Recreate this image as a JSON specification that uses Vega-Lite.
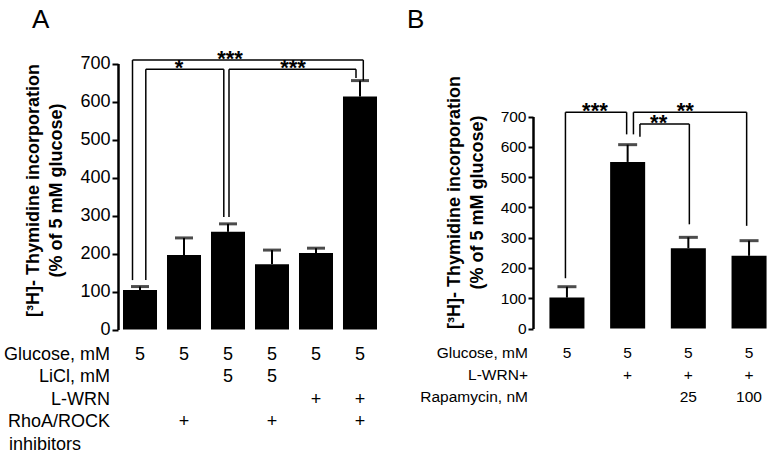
{
  "$schema": "https://vega.github.io/schema/vega-lite/v6.json",
  "width": 784,
  "height": 453,
  "autosize": {"type": "none"},
  "padding": 0,
  "background": "white",
  "config": {
    "view": {"stroke": null},
    "font": "Liberation Sans",
    "axis": {"labelFont": "Liberation Sans", "titleFont": "Liberation Sans", "grid": false},
    "text": {"font": "Liberation Sans", "color": "black"}
  },
  "datasets": {
    "barsA": [
      {"cat": "A1", "value": 104, "err": 113},
      {"cat": "A2", "value": 196, "err": 241},
      {"cat": "A3", "value": 257, "err": 278},
      {"cat": "A4", "value": 172, "err": 209},
      {"cat": "A5", "value": 201, "err": 214},
      {"cat": "A6", "value": 613, "err": 655}
    ],
    "barsB": [
      {"cat": "B1", "value": 102, "err": 138},
      {"cat": "B2", "value": 550, "err": 607},
      {"cat": "B3", "value": 265, "err": 301},
      {"cat": "B4", "value": 240, "err": 290}
    ],
    "bracketsA": [
      {"id": "a_outer", "from": "A1", "to": "A6", "top": 709, "yl": 130, "yr": 655, "labelAt": "A3", "label": "***"},
      {"id": "a_star", "from": "A1", "to": "A3", "top": 685, "yl": 130, "yr": 296, "labelAt": "A2", "label": "*"},
      {"id": "a_inner", "from": "A3", "to": "A6", "top": 685, "yl": 296, "yr": 662, "labelAt": "A4", "label": "***"}
    ],
    "bracketsB": [
      {"id": "b_12", "from": "B1", "to": "B2", "top": 714, "yl": 166, "yr": 641, "labelAt": "B1", "label": "***"},
      {"id": "b_24", "from": "B2", "to": "B4", "top": 714, "yl": 641, "yr": 339, "labelAt": "B3", "label": "**"},
      {"id": "b_23", "from": "B2", "to": "B3", "top": 675, "yl": 633, "yr": 344, "labelAt": "B2", "label": "**"}
    ],
    "tableA": [
      {"cat": "A1", "row": "Glucose, mM", "text": "5"},
      {"cat": "A2", "row": "Glucose, mM", "text": "5"},
      {"cat": "A3", "row": "Glucose, mM", "text": "5"},
      {"cat": "A4", "row": "Glucose, mM", "text": "5"},
      {"cat": "A5", "row": "Glucose, mM", "text": "5"},
      {"cat": "A6", "row": "Glucose, mM", "text": "5"},
      {"cat": "A3", "row": "LiCl, mM", "text": "5"},
      {"cat": "A4", "row": "LiCl, mM", "text": "5"},
      {"cat": "A5", "row": "L-WRN", "text": "+"},
      {"cat": "A6", "row": "L-WRN", "text": "+"},
      {"cat": "A2", "row": "RhoA/ROCK", "text": "+"},
      {"cat": "A4", "row": "RhoA/ROCK", "text": "+"},
      {"cat": "A6", "row": "RhoA/ROCK", "text": "+"}
    ],
    "rowsA": [
      {"row": "Glucose, mM"}, {"row": "LiCl, mM"}, {"row": "L-WRN"}, {"row": "RhoA/ROCK"}, {"row": "inhibitors"}
    ],
    "tableB": [
      {"cat": "B1", "row": "Glucose, mM", "text": "5"},
      {"cat": "B2", "row": "Glucose, mM", "text": "5"},
      {"cat": "B3", "row": "Glucose, mM", "text": "5"},
      {"cat": "B4", "row": "Glucose, mM", "text": "5"},
      {"cat": "B2", "row": "L-WRN+", "text": "+"},
      {"cat": "B3", "row": "L-WRN+", "text": "+"},
      {"cat": "B4", "row": "L-WRN+", "text": "+"},
      {"cat": "B3", "row": "Rapamycin, nM", "text": "25"},
      {"cat": "B4", "row": "Rapamycin, nM", "text": "100"}
    ],
    "rowsB": [
      {"row": "Glucose, mM"}, {"row": "L-WRN+"}, {"row": "Rapamycin, nM"}
    ]
  },
  "layer": [
    {
      "layer": [
        {
          "layer": [
            {
              "data": {"name": "barsA"},
              "mark": {"type": "bar", "color": "black"},
              "encoding": {
                "x": {
                  "field": "cat", "type": "nominal",
                  "scale": {"domain": ["A1", "A2", "A3", "A4", "A5", "A6"], "range": [118, 382], "paddingInner": 0.227, "paddingOuter": 0.1136, "align": 0.5},
                  "axis": {"orient": "bottom", "offset": -123.5, "labels": false, "title": null, "domainColor": "black", "domainWidth": 2.5, "tickColor": "black", "tickWidth": 2, "tickSize": 7}
                },
                "y": {
                  "field": "value", "type": "quantitative",
                  "scale": {"domain": [0, 700], "range": [329.5, 63.5], "nice": false},
                  "axis": {
                    "orient": "left", "offset": -118,
                    "values": [0, 100, 200, 300, 400, 500, 600, 700],
                    "domainColor": "black", "domainWidth": 2.5,
                    "tickColor": "black", "tickWidth": 2, "tickSize": 6,
                    "labelFontSize": 18, "labelColor": "black", "labelPadding": 2,
                    "title": ["[³H]- Thymidine incorporation", "(% of 5 mM glucose)"],
                    "titleFontSize": 18, "titleFontWeight": "bold", "titleColor": "black",
                    "titleLineHeight": 23, "titlePadding": 14, "titleY": 190
                  }
                }
              }
            },
            {
              "data": {"name": "barsA"},
              "mark": {"type": "rule", "color": "black", "strokeWidth": 2},
              "encoding": {
                "x": {"field": "cat", "type": "nominal"},
                "y": {"field": "value", "type": "quantitative"},
                "y2": {"field": "err"}
              }
            },
            {
              "data": {"name": "barsA"},
              "mark": {"type": "tick", "color": "black", "thickness": 3, "size": 18, "orient": "horizontal"},
              "encoding": {
                "x": {"field": "cat", "type": "nominal"},
                "y": {"field": "err", "type": "quantitative"}
              }
            },
            {
              "data": {"name": "bracketsA"},
              "transform": [{"filter": "datum.id === 'a_outer'"}],
              "mark": {"type": "rule", "color": "black", "strokeWidth": 1.5, "xOffset": -7.5, "x2Offset": 3.3},
              "encoding": {"x": {"field": "from", "type": "nominal"}, "x2": {"field": "to"}, "y": {"field": "top", "type": "quantitative"}}
            },
            {
              "data": {"name": "bracketsA"},
              "transform": [{"filter": "datum.id === 'a_outer'"}],
              "mark": {"type": "rule", "color": "black", "strokeWidth": 1.5, "xOffset": -7.5},
              "encoding": {"x": {"field": "from", "type": "nominal"}, "y": {"field": "top", "type": "quantitative"}, "y2": {"field": "yl"}}
            },
            {
              "data": {"name": "bracketsA"},
              "transform": [{"filter": "datum.id === 'a_outer'"}],
              "mark": {"type": "rule", "color": "black", "strokeWidth": 1.5, "xOffset": 3.3},
              "encoding": {"x": {"field": "to", "type": "nominal"}, "y": {"field": "top", "type": "quantitative"}, "y2": {"field": "yr"}}
            },
            {
              "data": {"name": "bracketsA"},
              "transform": [{"filter": "datum.id === 'a_outer'"}],
              "mark": {"type": "text", "fontSize": 22, "fontWeight": "bold", "baseline": "alphabetic", "dy": 6, "dx": 2},
              "encoding": {"x": {"field": "labelAt", "type": "nominal"}, "y": {"field": "top", "type": "quantitative"}, "text": {"field": "label"}}
            },
            {
              "data": {"name": "bracketsA"},
              "transform": [{"filter": "datum.id === 'a_star'"}],
              "mark": {"type": "rule", "color": "black", "strokeWidth": 1.5, "xOffset": 5.8, "x2Offset": -4.2},
              "encoding": {"x": {"field": "from", "type": "nominal"}, "x2": {"field": "to"}, "y": {"field": "top", "type": "quantitative"}}
            },
            {
              "data": {"name": "bracketsA"},
              "transform": [{"filter": "datum.id === 'a_star'"}],
              "mark": {"type": "rule", "color": "black", "strokeWidth": 1.5, "xOffset": 5.8},
              "encoding": {"x": {"field": "from", "type": "nominal"}, "y": {"field": "top", "type": "quantitative"}, "y2": {"field": "yl"}}
            },
            {
              "data": {"name": "bracketsA"},
              "transform": [{"filter": "datum.id === 'a_star'"}],
              "mark": {"type": "rule", "color": "black", "strokeWidth": 1.5, "xOffset": -4.2},
              "encoding": {"x": {"field": "to", "type": "nominal"}, "y": {"field": "top", "type": "quantitative"}, "y2": {"field": "yr"}}
            },
            {
              "data": {"name": "bracketsA"},
              "transform": [{"filter": "datum.id === 'a_star'"}],
              "mark": {"type": "text", "fontSize": 22, "fontWeight": "bold", "baseline": "alphabetic", "dy": 6, "dx": -5},
              "encoding": {"x": {"field": "labelAt", "type": "nominal"}, "y": {"field": "top", "type": "quantitative"}, "text": {"field": "label"}}
            },
            {
              "data": {"name": "bracketsA"},
              "transform": [{"filter": "datum.id === 'a_inner'"}],
              "mark": {"type": "rule", "color": "black", "strokeWidth": 1.5, "xOffset": 1, "x2Offset": -4},
              "encoding": {"x": {"field": "from", "type": "nominal"}, "x2": {"field": "to"}, "y": {"field": "top", "type": "quantitative"}}
            },
            {
              "data": {"name": "bracketsA"},
              "transform": [{"filter": "datum.id === 'a_inner'"}],
              "mark": {"type": "rule", "color": "black", "strokeWidth": 1.5, "xOffset": 1},
              "encoding": {"x": {"field": "from", "type": "nominal"}, "y": {"field": "top", "type": "quantitative"}, "y2": {"field": "yl"}}
            },
            {
              "data": {"name": "bracketsA"},
              "transform": [{"filter": "datum.id === 'a_inner'"}],
              "mark": {"type": "rule", "color": "black", "strokeWidth": 1.5, "xOffset": -4},
              "encoding": {"x": {"field": "to", "type": "nominal"}, "y": {"field": "top", "type": "quantitative"}, "y2": {"field": "yr"}}
            },
            {
              "data": {"name": "bracketsA"},
              "transform": [{"filter": "datum.id === 'a_inner'"}],
              "mark": {"type": "text", "fontSize": 22, "fontWeight": "bold", "baseline": "alphabetic", "dy": 6, "dx": 21},
              "encoding": {"x": {"field": "labelAt", "type": "nominal"}, "y": {"field": "top", "type": "quantitative"}, "text": {"field": "label"}}
            },
            {
              "data": {"values": [{"panel": "A"}]},
              "mark": {"type": "text", "fontSize": 26, "align": "left", "baseline": "alphabetic", "dx": -108},
              "encoding": {"x": {"datum": "A1", "type": "nominal"}, "y": {"datum": 793, "type": "quantitative"}, "text": {"field": "panel"}}
            }
          ]
        },
        {
          "layer": [
            {
              "data": {"name": "tableA"},
              "mark": {"type": "text", "fontSize": 18, "baseline": "middle"},
              "encoding": {
                "x": {"field": "cat", "type": "nominal", "axis": null},
                "y": {"field": "row", "type": "ordinal", "scale": {"type": "point", "domain": ["Glucose, mM", "LiCl, mM", "L-WRN", "RhoA/ROCK", "inhibitors"], "range": [355, 444.6], "padding": 0}, "axis": null},
                "text": {"field": "text"}
              }
            },
            {
              "data": {"name": "rowsA"},
              "transform": [{"filter": "datum.row !== 'inhibitors'"}],
              "mark": {"type": "text", "fontSize": 18, "align": "right", "baseline": "middle", "dx": -30},
              "encoding": {"x": {"datum": "A1", "type": "nominal", "axis": null}, "y": {"field": "row", "type": "ordinal", "axis": null}, "text": {"field": "row"}}
            },
            {
              "data": {"name": "rowsA"},
              "transform": [{"filter": "datum.row === 'inhibitors'"}],
              "mark": {"type": "text", "fontSize": 18, "align": "left", "baseline": "middle", "dx": -131},
              "encoding": {"x": {"datum": "A1", "type": "nominal", "axis": null}, "y": {"field": "row", "type": "ordinal", "axis": null}, "text": {"field": "row"}}
            }
          ]
        }
      ],
      "resolve": {"scale": {"y": "independent"}}
    },
    {
      "layer": [
        {
          "layer": [
            {
              "data": {"name": "barsB"},
              "mark": {"type": "bar", "color": "black"},
              "encoding": {
                "x": {
                  "field": "cat", "type": "nominal",
                  "scale": {"domain": ["B1", "B2", "B3", "B4"], "range": [533, 780], "paddingInner": 0.423, "paddingOuter": 0.246, "align": 0.55},
                  "axis": {"orient": "bottom", "offset": -124.5, "labels": false, "title": null, "domainColor": "black", "domainWidth": 2.5, "tickColor": "black", "tickWidth": 2, "tickSize": 7}
                },
                "y": {
                  "field": "value", "type": "quantitative",
                  "scale": {"domain": [0, 700], "range": [328.5, 116.5], "nice": false},
                  "axis": {
                    "orient": "left", "offset": -533,
                    "values": [0, 100, 200, 300, 400, 500, 600, 700],
                    "domainColor": "black", "domainWidth": 2.5,
                    "tickColor": "black", "tickWidth": 2, "tickSize": 5,
                    "labelFontSize": 15.5, "labelColor": "black", "labelPadding": 2,
                    "title": ["[³H]- Thymidine incorporation", "(% of 5 mM glucose)"],
                    "titleFontSize": 18, "titleFontWeight": "bold", "titleColor": "black",
                    "titleLineHeight": 23, "titlePadding": 14, "titleY": 202
                  }
                }
              }
            },
            {
              "data": {"name": "barsB"},
              "mark": {"type": "rule", "color": "black", "strokeWidth": 2},
              "encoding": {
                "x": {"field": "cat", "type": "nominal"},
                "y": {"field": "value", "type": "quantitative"},
                "y2": {"field": "err"}
              }
            },
            {
              "data": {"name": "barsB"},
              "mark": {"type": "tick", "color": "black", "thickness": 3, "size": 19, "orient": "horizontal"},
              "encoding": {
                "x": {"field": "cat", "type": "nominal"},
                "y": {"field": "err", "type": "quantitative"}
              }
            },
            {
              "data": {"name": "bracketsB"},
              "transform": [{"filter": "datum.id === 'b_12'"}],
              "mark": {"type": "rule", "color": "black", "strokeWidth": 1.5, "xOffset": -1.5, "x2Offset": -1},
              "encoding": {"x": {"field": "from", "type": "nominal"}, "x2": {"field": "to"}, "y": {"field": "top", "type": "quantitative"}}
            },
            {
              "data": {"name": "bracketsB"},
              "transform": [{"filter": "datum.id === 'b_12'"}],
              "mark": {"type": "rule", "color": "black", "strokeWidth": 1.5, "xOffset": -1.5},
              "encoding": {"x": {"field": "from", "type": "nominal"}, "y": {"field": "top", "type": "quantitative"}, "y2": {"field": "yl"}}
            },
            {
              "data": {"name": "bracketsB"},
              "transform": [{"filter": "datum.id === 'b_12'"}],
              "mark": {"type": "rule", "color": "black", "strokeWidth": 1.5, "xOffset": -1},
              "encoding": {"x": {"field": "to", "type": "nominal"}, "y": {"field": "top", "type": "quantitative"}, "y2": {"field": "yr"}}
            },
            {
              "data": {"name": "bracketsB"},
              "transform": [{"filter": "datum.id === 'b_12'"}],
              "mark": {"type": "text", "fontSize": 22, "fontWeight": "bold", "baseline": "alphabetic", "dy": 6, "dx": 28},
              "encoding": {"x": {"field": "labelAt", "type": "nominal"}, "y": {"field": "top", "type": "quantitative"}, "text": {"field": "label"}}
            },
            {
              "data": {"name": "bracketsB"},
              "transform": [{"filter": "datum.id === 'b_24'"}],
              "mark": {"type": "rule", "color": "black", "strokeWidth": 1.5, "xOffset": 5.8, "x2Offset": -2.4},
              "encoding": {"x": {"field": "from", "type": "nominal"}, "x2": {"field": "to"}, "y": {"field": "top", "type": "quantitative"}}
            },
            {
              "data": {"name": "bracketsB"},
              "transform": [{"filter": "datum.id === 'b_24'"}],
              "mark": {"type": "rule", "color": "black", "strokeWidth": 1.5, "xOffset": 5.8},
              "encoding": {"x": {"field": "from", "type": "nominal"}, "y": {"field": "top", "type": "quantitative"}, "y2": {"field": "yl"}}
            },
            {
              "data": {"name": "bracketsB"},
              "transform": [{"filter": "datum.id === 'b_24'"}],
              "mark": {"type": "rule", "color": "black", "strokeWidth": 1.5, "xOffset": -2.4},
              "encoding": {"x": {"field": "to", "type": "nominal"}, "y": {"field": "top", "type": "quantitative"}, "y2": {"field": "yr"}}
            },
            {
              "data": {"name": "bracketsB"},
              "transform": [{"filter": "datum.id === 'b_24'"}],
              "mark": {"type": "text", "fontSize": 22, "fontWeight": "bold", "baseline": "alphabetic", "dy": 6, "dx": -3},
              "encoding": {"x": {"field": "labelAt", "type": "nominal"}, "y": {"field": "top", "type": "quantitative"}, "text": {"field": "label"}}
            },
            {
              "data": {"name": "bracketsB"},
              "transform": [{"filter": "datum.id === 'b_23'"}],
              "mark": {"type": "rule", "color": "black", "strokeWidth": 1.5, "xOffset": 12.3, "x2Offset": 1},
              "encoding": {"x": {"field": "from", "type": "nominal"}, "x2": {"field": "to"}, "y": {"field": "top", "type": "quantitative"}}
            },
            {
              "data": {"name": "bracketsB"},
              "transform": [{"filter": "datum.id === 'b_23'"}],
              "mark": {"type": "rule", "color": "black", "strokeWidth": 1.5, "xOffset": 12.3},
              "encoding": {"x": {"field": "from", "type": "nominal"}, "y": {"field": "top", "type": "quantitative"}, "y2": {"field": "yl"}}
            },
            {
              "data": {"name": "bracketsB"},
              "transform": [{"filter": "datum.id === 'b_23'"}],
              "mark": {"type": "rule", "color": "black", "strokeWidth": 1.5, "xOffset": 1},
              "encoding": {"x": {"field": "to", "type": "nominal"}, "y": {"field": "top", "type": "quantitative"}, "y2": {"field": "yr"}}
            },
            {
              "data": {"name": "bracketsB"},
              "transform": [{"filter": "datum.id === 'b_23'"}],
              "mark": {"type": "text", "fontSize": 22, "fontWeight": "bold", "baseline": "alphabetic", "dy": 6, "dx": 31},
              "encoding": {"x": {"field": "labelAt", "type": "nominal"}, "y": {"field": "top", "type": "quantitative"}, "text": {"field": "label"}}
            },
            {
              "data": {"values": [{"panel": "B"}]},
              "mark": {"type": "text", "fontSize": 26, "align": "left", "baseline": "alphabetic", "dx": -160},
              "encoding": {"x": {"datum": "B1", "type": "nominal"}, "y": {"datum": 992, "type": "quantitative"}, "text": {"field": "panel"}}
            }
          ]
        },
        {
          "layer": [
            {
              "data": {"name": "tableB"},
              "mark": {"type": "text", "fontSize": 15.5, "baseline": "middle"},
              "encoding": {
                "x": {"field": "cat", "type": "nominal", "axis": null},
                "y": {"field": "row", "type": "ordinal", "scale": {"type": "point", "domain": ["Glucose, mM", "L-WRN+", "Rapamycin, nM"], "range": [353, 397], "padding": 0}, "axis": null},
                "text": {"field": "text"}
              }
            },
            {
              "data": {"name": "rowsB"},
              "mark": {"type": "text", "fontSize": 15.5, "align": "right", "baseline": "middle", "dx": -39},
              "encoding": {"x": {"datum": "B1", "type": "nominal", "axis": null}, "y": {"field": "row", "type": "ordinal", "axis": null}, "text": {"field": "row"}}
            }
          ]
        }
      ],
      "resolve": {"scale": {"y": "independent"}}
    }
  ],
  "resolve": {"scale": {"x": "independent", "y": "independent"}}
}
